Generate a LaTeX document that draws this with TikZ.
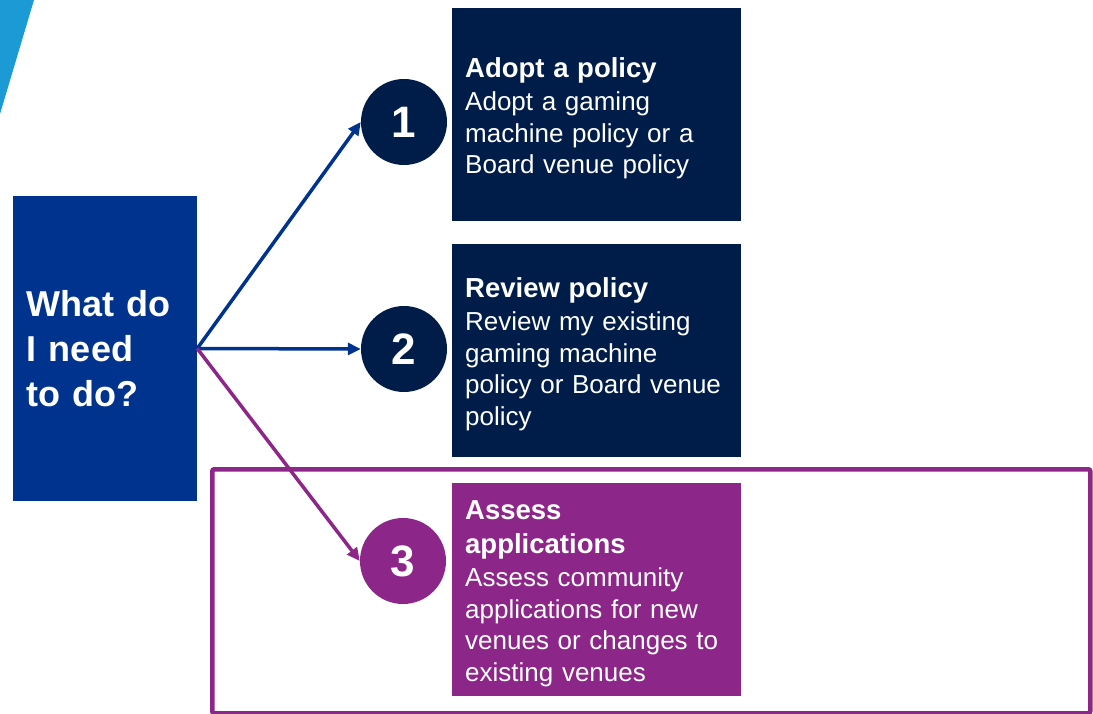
\documentclass[tikz,border=0pt]{standalone}
\usepackage{fontspec}
\setmainfont{Liberation Sans}
\usetikzlibrary{arrows.meta}

\definecolor{navy}{RGB}{0,29,74}
\definecolor{royal}{RGB}{0,51,141}
\definecolor{plum}{RGB}{140,38,137}
\definecolor{sky}{RGB}{27,154,214}

\newcommand{\cardhead}[1]{{\fontsize{27.5}{33}\selectfont\bfseries #1}}

\begin{document}
\begin{tikzpicture}[x=1pt,y=-1pt, % one unit per pixel, y downwards
  card/.style={rectangle,fill=navy,text=white,anchor=north west,
    minimum width=289pt,minimum height=213pt,text width=263pt,
    inner xsep=13pt,align=left,font=\fontsize{26}{31.5}\selectfont,
    execute at begin node=\rule{0pt}{27pt}}, % a little air above the heading
  num/.style={circle,fill=navy,text=white,minimum size=86pt,inner sep=0pt,
    font=\fontsize{44}{44}\selectfont\bfseries},
  link/.style={royal,line width=3.5pt,-{Triangle[length=13pt,width=12pt]}}]
  \useasboundingbox (0,0) rectangle (1093,714);

  % corner flash
  \fill[sky] (0,0) -- (34,0) -- (0,114) -- cycle;

  % frame round the third option
  \node[draw=plum,line width=4.5pt,rounded corners=2pt,anchor=north west,
    minimum width=878pt,minimum height=244pt] (grp) at (210,467) {};

  \node[rectangle,fill=royal,text=white,minimum width=184pt,minimum height=305pt,
    text width=156pt,inner xsep=14pt,align=left,
    font=\fontsize{36}{45}\selectfont\bfseries] (q) at (105,348.5)
    {What do\\I need\\to do?};

  \node[card] (c1) at (452,8)
    {\cardhead{Adopt a policy}\\[1.5pt]Adopt a gaming\\machine policy or a\\Board venue policy};
  \node[card] (c2) at (452,244)
    {\cardhead{Review policy}\\[1.5pt]Review my existing\\gaming machine\\policy or Board venue\\policy};
  \node[card,fill=plum] (c3) at (452,483)
    {\cardhead{Assess}\\[2.5pt]\cardhead{applications}\\[1.5pt]Assess community\\applications for new\\venues or changes to\\existing venues};

  \node[num] (n1) at (404,122) {1};
  \node[num] (n2) at (404,349) {2};
  \node[num,fill=plum] (n3) at (403,561) {3};

  \draw[link] (q.east) -- (n1.west);
  \draw[link] (q.east) -- (n2.west);
  \draw[link,plum] (q.east) -- (n3.west);
\end{tikzpicture}
\end{document}
